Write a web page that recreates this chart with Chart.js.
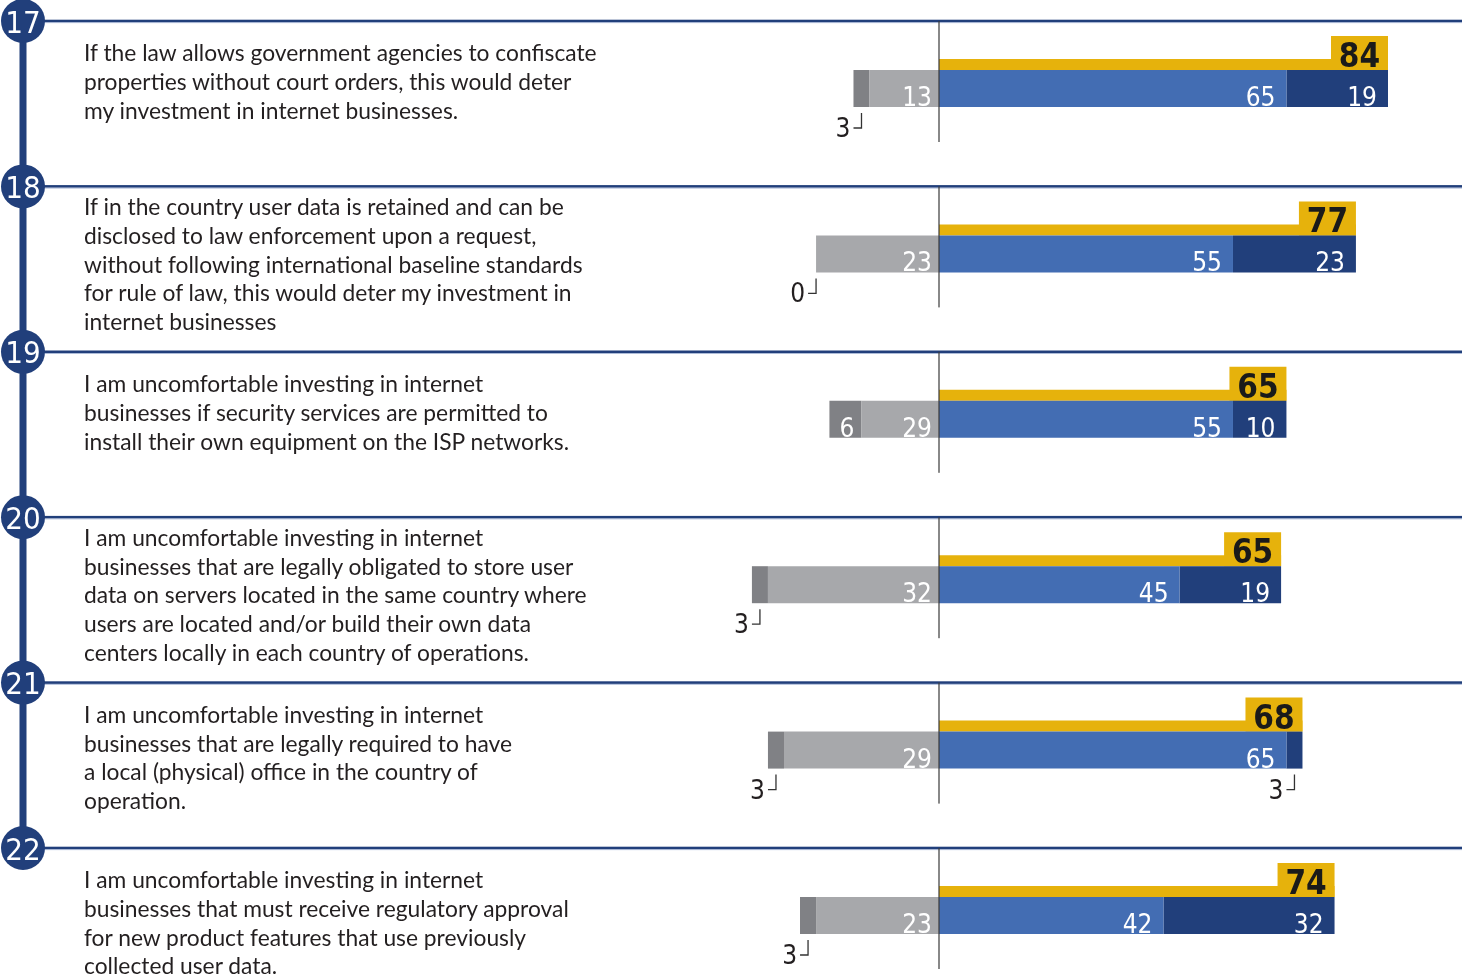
<!DOCTYPE html>
<html>
<head>
<meta charset="utf-8">
<script src="https://cdn.jsdelivr.net/npm/chart.js@4.4.1/dist/chart.umd.min.js"></script>
<style>
body{margin:0;background:#fff}
#caja{position:relative;width:1468px;height:977px;overflow:hidden}
#grafico{position:absolute;left:0;top:0}
.pregunta{position:absolute;left:84px;color:#231f20;font-family:Lato,"Noto Sans",sans-serif;white-space:nowrap}
</style>
</head>
<body>
<div id="caja"><canvas id="grafico" width="1468" height="977"></canvas></div>
<script>

const numeros=[17,18,19,20,21,22]

const preguntas=[
  ["If the law allows government agencies to confiscate","properties without court orders, this would deter","my investment in internet businesses."],
  ["If in the country user data is retained and can be","disclosed to law enforcement upon a request,","without following international baseline standards","for rule of law, this would deter my investment in","internet businesses"],
  ["I am uncomfortable investing in internet","businesses if security services are permitted to","install their own equipment on the ISP networks."],
  ["I am uncomfortable investing in internet","businesses that are legally obligated to store user","data on servers located in the same country where","users are located and/or build their own data","centers locally in each country of operations."],
  ["I am uncomfortable investing in internet","businesses that are legally required to have","a local (physical) office in the country of","operation."],
  ["I am uncomfortable investing in internet","businesses that must receive regulatory approval","for new product features that use previously","collected user data."]
]

// valores impresos
const muyDesacuerdo=[3,0,6,3,3,3]
const desacuerdo=[13,23,29,32,29,23]
const acuerdo=[65,55,55,45,65,42]
const muyAcuerdo=[19,23,10,19,3,32]
const totalAcuerdo=[84,77,65,65,68,74]

// largos como estan dibujados en la imagen (fila 19 gris y totales 18/20 no coinciden con su numero)
const desacuerdoBarra=[13,23,14.5,32,29,23]
const totalBarra=[84,78,65,64,68,74]

// colores
const GRIS_CLARO='#a7a8ab'
const GRIS_OSCURO='#808185'
const AZUL='#436db3'
const AZUL_OSCURO='#213f7b'
const AMARILLO='#e6b20c'
const ANGOSTA='"Liberation Sans Narrow","DejaVu Sans Condensed","Liberation Sans",sans-serif'

// escala: 0 en x=939, 84 llega a x=1388
const ANCHO=1468, ALTO=977
const PX_UNIDAD=449/84
const CENTRO_X=939
const xMin=-CENTRO_X/PX_UNIDAD
const xMax=(ANCHO-CENTRO_X)/PX_UNIDAD
const FILA_PX=165.4
const PRIMERA_FILA=88.5
const yMin=-PRIMERA_FILA/FILA_PX
const yMax=yMin+ALTO/FILA_PX
const despBarra=24/FILA_PX
const despCaja=35.5/FILA_PX
const cajaUnidades=57/PX_UNIDAD
const SEP=67.5

function serie(nombre,valores,signo,color){
  return {
    label:nombre,
    data:valores.map((v,i)=>({x:signo*v,y:i})),
    backgroundColor:color,
    stack:'resp',
    yAxisID:'y',
    grouped:false,
    barPercentage:1,
    maxBarThickness:37,
    borderWidth:0
  }
}

function ejeY(desp){
  return {
    type:'linear',min:yMin+desp,max:yMax+desp,reverse:true,display:false,
    offset:false,bounds:'data',ticks:{stepSize:1,includeBounds:false}
  }
}

const decoracion={
  id:'decoracion',
  beforeDatasetsDraw(chart){
    const ctx=chart.ctx
    const ys=chart.scales.y
    const centros=numeros.map((n,i)=>ys.getPixelForValue(i))
    ctx.save()
    ctx.fillStyle=AZUL_OSCURO
    ctx.fillRect(19.5,centros[0]-SEP,7,centros[5]-centros[0])
    centros.forEach(c=>{
      ctx.fillStyle=AZUL_OSCURO
      ctx.fillRect(23,c-SEP-1.3,1439,2.6)
      ctx.fillStyle='#9fb0d2'
      ctx.fillRect(45,c-SEP+1.3,1417,0.8)
    })
    ctx.restore()
  },
  afterDatasetsDraw(chart){
    const ctx=chart.ctx
    const ys=chart.scales.y
    const xs=chart.scales.x
    const cx=xs.getPixelForValue(0)
    ctx.save()
    numeros.forEach((n,i)=>{
      const c=ys.getPixelForValue(i)
      // linea central
      ctx.fillStyle='#3b3b3b'
      ctx.fillRect(cx-0.6,c-SEP,1.2,121)
      // circulo
      ctx.fillStyle=AZUL_OSCURO
      ctx.beginPath()
      ctx.arc(23,c-SEP,22,0,Math.PI*2)
      ctx.fill()
      ctx.fillStyle='#fff'
      ctx.font='31px '+ANGOSTA
      ctx.textAlign='center'
      ctx.textBaseline='alphabetic'
      ctx.fillText(String(n),23,c-SEP+11.5)
    })

    // etiquetas de las barras
    const etiquetas=[desacuerdo,muyDesacuerdo,acuerdo,muyAcuerdo]
    for(let d=0;d<4;d++){
      const meta=chart.getDatasetMeta(d)
      meta.data.forEach((el,i)=>{
        const v=etiquetas[d][i]
        const izq=Math.min(el.x,el.base)
        const der=Math.max(el.x,el.base)
        const abajo=el.y+el.height/2
        ctx.font='26px '+ANGOSTA
        ctx.textAlign='right'
        ctx.textBaseline='alphabetic'
        if(v>=5){
          ctx.fillStyle='#fff'
          const pad=d<2?7:11
          ctx.fillText(String(v),der-pad,abajo-1)
        }else{
          const xv=(izq+der)/2
          ctx.strokeStyle='#333'
          ctx.lineWidth=1.3
          ctx.beginPath()
          ctx.moveTo(xv,abajo+6)
          ctx.lineTo(xv,abajo+21)
          ctx.lineTo(xv-8,abajo+21)
          ctx.stroke()
          ctx.fillStyle='#231f20'
          ctx.fillText(String(v),xv-11,abajo+30)
        }
      })
    }

    // total en la caja amarilla
    const metaCaja=chart.getDatasetMeta(5)
    metaCaja.data.forEach((el,i)=>{
      const abajo=el.y+el.height/2
      ctx.fillStyle='#1a1a1a'
      ctx.font='bold 33px '+ANGOSTA
      ctx.textAlign='center'
      ctx.fillText(String(totalAcuerdo[i]),(el.x+el.base)/2,abajo-3)
    })
    ctx.restore()
  }
}

const ctx=document.getElementById('grafico')

const grafico=new Chart(ctx,{
  type:'bar',
  data:{
    datasets:[
      serie('Disagree',desacuerdoBarra,-1,GRIS_CLARO),
      serie('Strongly disagree',muyDesacuerdo,-1,GRIS_OSCURO),
      serie('Agree',acuerdo,1,AZUL),
      serie('Strongly agree',muyAcuerdo,1,AZUL_OSCURO),
      {
        label:'Total agree',
        data:totalBarra.map((v,i)=>({x:v,y:i})),
        backgroundColor:AMARILLO,
        stack:'total',
        yAxisID:'yBarra',
        grouped:false,
        barPercentage:1,
        maxBarThickness:11,
        borderWidth:0
      },
      {
        label:'Total box',
        data:totalBarra.map((v,i)=>({x:[v-cajaUnidades,v],y:i})),
        backgroundColor:AMARILLO,
        stack:'caja',
        yAxisID:'yCaja',
        grouped:false,
        barPercentage:1,
        maxBarThickness:34,
        borderWidth:0
      }
    ]
  },
  options:{
    indexAxis:'y',
    responsive:false,
    animation:false,
    devicePixelRatio:1,
    layout:{padding:0},
    plugins:{legend:{display:false},tooltip:{enabled:false}},
    scales:{
      x:{type:'linear',min:xMin,max:xMax,display:false,stacked:true,bounds:'data'},
      y:ejeY(0),
      yBarra:ejeY(despBarra),
      yCaja:ejeY(despCaja)
    }
  },
  plugins:[decoracion]
})

// textos de las preguntas
function textos(){
  const medida=document.createElement('canvas').getContext('2d')
  medida.font='20px Lato'
  const w=medida.measureText(preguntas[0][0]).width
  const tam=20*514/w
  const alto=28.7
  const caja=document.getElementById('caja')
  preguntas.forEach((lineas,i)=>{
    const c=grafico.scales.y.getPixelForValue(i)
    const y0=c-SEP
    const base=lineas.length>=5?29:40.5
    const div=document.createElement('div')
    div.className='pregunta'
    div.style.fontSize=tam+'px'
    div.style.lineHeight=alto+'px'
    // linea base aprox: top + medio interlineado + ascendente
    const top=y0+base-((alto-1.2*tam)/2+0.987*tam)
    div.style.top=top+'px'
    div.innerHTML=lineas.join('<br>')
    caja.appendChild(div)
  })
}
textos()
</script>
</body>
</html>
